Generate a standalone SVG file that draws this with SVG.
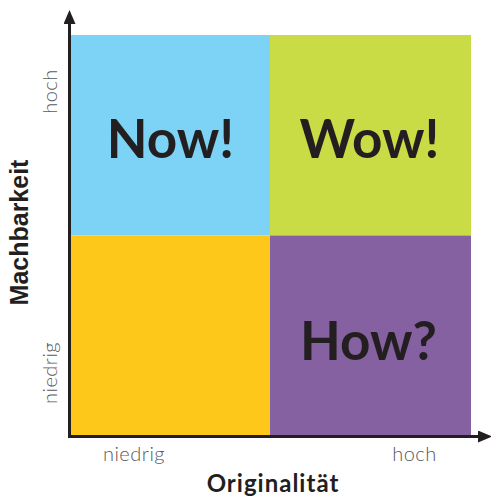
<svg xmlns="http://www.w3.org/2000/svg" width="491" height="497" viewBox="0 0 491 497">
<style>
.big{font-family:Lato,"Liberation Sans",sans-serif;font-weight:700;font-size:53px;fill:#231f20;text-anchor:middle}
.tick{font-family:Lato,"Liberation Sans",sans-serif;font-weight:300;font-size:20px;letter-spacing:0.5px;fill:#58595b;text-anchor:middle}
.axis{stroke:#231f20;stroke-width:3;fill:none}
</style>
<defs>
<marker id="ah" viewBox="0 0 14 12" refX="0" refY="6" markerWidth="14" markerHeight="12" markerUnits="userSpaceOnUse" orient="auto">
<path d="M0,0 L14,6 L0,12 Z" fill="#231f20"/>
</marker>
</defs>
<g id="q-now"><rect x="71" y="35" width="199" height="200.5" fill="#7dd3f5"/><text class="big" x="170.5" y="158">Now!</text></g>
<g id="q-wow"><rect x="270" y="35" width="201" height="200.5" fill="#c9dc45"/><text class="big" x="369.5" y="158">Wow!</text></g>
<g id="q-low"><rect x="71" y="235.5" width="199" height="200" fill="#fec81b"/></g>
<g id="q-how"><rect x="270" y="235.5" width="201" height="200" fill="#8561a2"/><text class="big" x="368.5" y="360">How?</text></g>
<g id="axes">
<line class="axis" x1="69.5" y1="437.5" x2="69.5" y2="24" marker-end="url(#ah)"/>
<line class="axis" x1="68" y1="436.5" x2="478" y2="436.5" marker-end="url(#ah)"/>
</g>
<g id="labels">
<text class="tick" transform="translate(57,91.5) rotate(-90)">hoch</text>
<text class="tick" transform="translate(57,373) rotate(-90)">niedrig</text>
<text class="tick" x="134" y="461">niedrig</text>
<text class="tick" x="414.5" y="461">hoch</text>
<text transform="translate(28,232.5) rotate(-90)" font-family="'Liberation Sans',Arial,sans-serif" font-weight="700" font-size="25" fill="#231f20" text-anchor="middle">Machbarkeit</text>
<text x="273" y="492" font-family="Lato,'Liberation Sans',sans-serif" font-weight="700" font-size="24" letter-spacing="1" fill="#231f20" text-anchor="middle">Originalität</text>
</g>
</svg>
